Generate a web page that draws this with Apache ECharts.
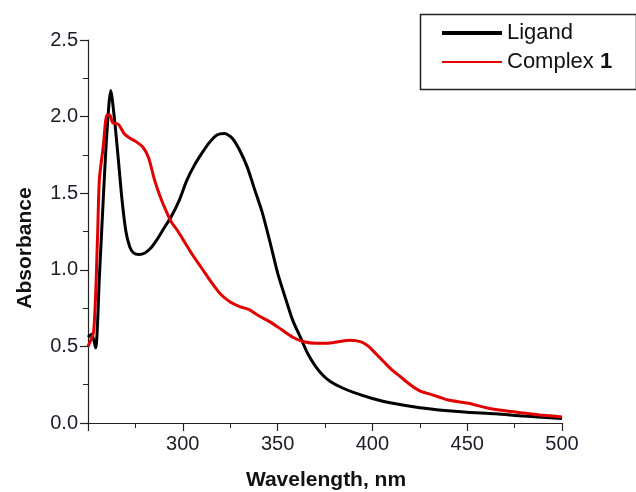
<!DOCTYPE html>
<html>
<head>
<meta charset="utf-8">
<script src="https://cdn.jsdelivr.net/npm/echarts@6/dist/echarts.min.js"></script>
<style>
  html, body { margin: 0; padding: 0; background: #fff; }
  #chart { width: 636px; height: 492px; }
</style>
</head>
<body>
<div id="chart"></div>
<script>
// ---- Data ----
const ligandX = [250, 252, 254, 256, 258, 260, 262, 264, 266, 268, 270, 272, 274, 277, 280, 283, 286, 290, 294, 298, 302, 306, 310, 314, 318, 322, 326, 330, 334, 338, 342, 346, 350, 354, 358, 362, 366, 370, 374, 378, 384, 390, 400, 410, 425, 440, 450, 465, 480, 500];
const ligandY = [0.56, 0.58, 0.49, 0.95, 1.45, 1.90, 2.17, 1.98, 1.72, 1.45, 1.25, 1.15, 1.11, 1.10, 1.11, 1.14, 1.19, 1.27, 1.35, 1.45, 1.58, 1.68, 1.76, 1.83, 1.88, 1.89, 1.86, 1.78, 1.67, 1.52, 1.37, 1.18, 0.98, 0.82, 0.67, 0.56, 0.45, 0.37, 0.31, 0.27, 0.23, 0.20, 0.16, 0.13, 0.10, 0.08, 0.07, 0.06, 0.045, 0.03];

const complexX = [250, 253, 255, 256, 258, 260, 261.5, 263, 266, 269, 272, 275, 279, 282, 285, 288, 291, 294, 297, 300, 305, 310, 315, 320, 325, 330, 335, 340, 346, 352, 358, 364, 370, 376, 382, 388, 394, 398, 402, 406, 410, 415, 420, 425, 430, 435, 440, 450, 460, 470, 480, 490, 500];
const complexY = [0.50, 0.60, 1.20, 1.59, 1.80, 2.01, 2.01, 1.96, 1.95, 1.89, 1.86, 1.84, 1.80, 1.73, 1.59, 1.48, 1.39, 1.31, 1.26, 1.20, 1.10, 1.01, 0.92, 0.84, 0.79, 0.76, 0.74, 0.70, 0.66, 0.61, 0.56, 0.53, 0.52, 0.52, 0.53, 0.54, 0.53, 0.50, 0.45, 0.40, 0.35, 0.30, 0.25, 0.21, 0.19, 0.17, 0.15, 0.13, 0.10, 0.08, 0.065, 0.05, 0.04];

const seriesNames = ['Ligand', 'Complex 1'];
const xTitle = 'Wavelength, nm';
const yTitle = 'Absorbance';

const pair = (xs, ys) => xs.map((x, i) => [x, ys[i]]);
const FONT = '"Liberation Sans", Arial, Helvetica, sans-serif';
const AX = '#222';

const chart = echarts.init(document.getElementById('chart'), null, { renderer: 'canvas' });
chart.setOption({
  animation: false,
  backgroundColor: '#fff',
  grid: { left: 88, right: 74, top: 40, bottom: 69, containLabel: false },
  xAxis: {
    type: 'value', min: 250, max: 500, interval: 50,
    axisLine: { show: true, lineStyle: { color: AX, width: 1.2 } },
    axisTick: { show: true, inside: false, length: 8, lineStyle: { color: AX, width: 1.2 } },
    minorTick: { show: true, splitNumber: 2, length: 5, lineStyle: { color: AX, width: 1 } },
    splitLine: { show: false },
    axisLabel: { margin: 11, fontSize: 20, color: '#1c1c28', fontFamily: FONT,
      formatter: v => (v === 250 ? '' : String(v)) }
  },
  yAxis: {
    type: 'value', min: 0, max: 2.5, interval: 0.5,
    axisLine: { show: true, lineStyle: { color: AX, width: 1.2 } },
    axisTick: { show: true, inside: false, length: 8, lineStyle: { color: AX, width: 1.2 } },
    minorTick: { show: true, splitNumber: 2, length: 5, lineStyle: { color: AX, width: 1 } },
    splitLine: { show: false },
    axisLabel: { margin: 10, fontSize: 20, color: '#1c1c28', fontFamily: FONT,
      formatter: v => v.toFixed(1) }
  },
  legend: {
    orient: 'vertical', left: 440, top: 22,
    itemWidth: 60, itemHeight: 14, itemGap: 7,
    padding: 0,
    itemStyle: { opacity: 0 },
    textStyle: { fontSize: 22, color: '#111', fontFamily: FONT,
      rich: { b: { fontSize: 22, fontWeight: 'bold', color: '#111', fontFamily: FONT } } },
    formatter: name => name === 'Complex 1' ? 'Complex {b|1}' : name,
    data: [
      { name: seriesNames[0], lineStyle: { width: 4, color: '#000' } },
      { name: seriesNames[1], lineStyle: { width: 2, color: '#e00000' } }
    ]
  },
  graphic: [
    { type: 'rect', left: 418, top: 12, shape: { width: 216, height: 75 },
      style: { fill: 'none', stroke: '#222', lineWidth: 1.5 }, z: 1 },
    { type: 'text', x: 25, y: 248, rotation: Math.PI / 2,
      style: { text: yTitle, font: 'bold 21px ' + FONT, fill: '#111',
        textAlign: 'center', textVerticalAlign: 'middle' } },
    { type: 'text', x: 326, y: 480,
      style: { text: xTitle, font: 'bold 21px ' + FONT, fill: '#111',
        textAlign: 'center', textVerticalAlign: 'middle' } }
  ],
  series: [
    { name: seriesNames[0], type: 'line', data: pair(ligandX, ligandY),
      symbol: 'none', smooth: 0.25, z: 3,
      lineStyle: { color: '#000', width: 3 }, itemStyle: { color: '#000' } },
    { name: seriesNames[1], type: 'line', data: pair(complexX, complexY),
      symbol: 'none', smooth: 0.25, z: 4,
      lineStyle: { color: '#e00000', width: 3 }, itemStyle: { color: '#e00000' } }
  ]
});
</script>
</body>
</html>
